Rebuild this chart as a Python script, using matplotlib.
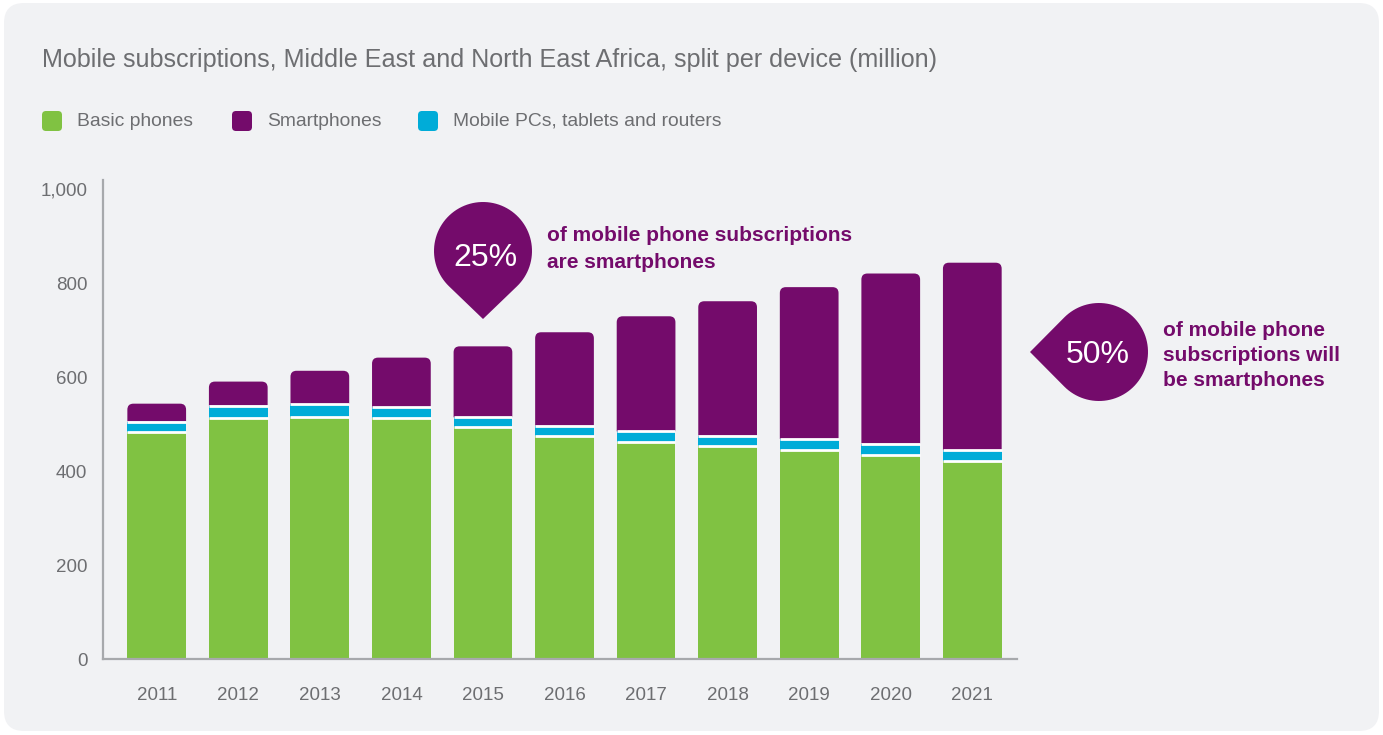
import matplotlib

matplotlib.use("Agg")
import matplotlib.pyplot as plt
import numpy as np
from matplotlib.patches import FancyBboxPatch, PathPatch
from matplotlib.path import Path

plt.rcParams["font.family"] = ["Liberation Sans", "DejaVu Sans"]

years = ["2011", "2012", "2013", "2014", "2015", "2016", "2017", "2018", "2019", "2020", "2021"]
basic_phones = [483, 513, 516, 514, 494, 476, 463, 454, 446, 435, 421]
mobile_pcs = [23, 27, 27, 22, 21, 21, 22, 22, 23, 24, 24]
smartphones = [38, 51, 71, 106, 151, 199, 245, 286, 323, 362, 399]
y_ticks = [0, 200, 400, 600, 800, 1000]
series_labels = ["Basic phones", "Smartphones", "Mobile PCs, tablets and routers"]

GREEN = "#80c242"
PURPLE = "#740b6b"
CYAN = "#00acd8"
GREY_TEXT = "#6d6e71"
AXIS_GREY = "#a7a9ac"
CARD = "#f1f2f4"

W, H = 1383, 735
fig = plt.figure(figsize=(W / 100, H / 100), dpi=100, facecolor="white")

# background / overlay drawn in pixel coordinates
bg = fig.add_axes([0, 0, 1, 1], zorder=0)
bg.set_xlim(0, W)
bg.set_ylim(H, 0)
bg.axis("off")
bg.add_patch(FancyBboxPatch((4, 3), W - 8, H - 7, boxstyle="round,pad=0,rounding_size=20",
                            fc=CARD, ec="none"))

bg.text(42, 60, "Mobile subscriptions, Middle East and North East Africa, split per device (million)",
        fontsize=18.1, color=GREY_TEXT, va="center", ha="left")

legend_x = [42, 232, 418]
legend_cols = [GREEN, PURPLE, CYAN]
for x0, c, lab in zip(legend_x, legend_cols, series_labels):
    bg.add_patch(FancyBboxPatch((x0, 111), 20, 20, boxstyle="round,pad=0,rounding_size=4",
                                fc=c, ec="none"))
    bg.text(x0 + 35, 121, lab, fontsize=13.9, color=GREY_TEXT, va="center", ha="left")


def teardrop(cx, cy, r, tip_angle, tip_dist):
    # circle with a pointed tip in direction tip_angle (radians, screen coords)
    half = np.arccos(r / tip_dist)
    angs = np.linspace(tip_angle + half, tip_angle + 2 * np.pi - half, 80)
    pts = [(cx + r * np.cos(a), cy + r * np.sin(a)) for a in angs]
    pts.append((cx + tip_dist * np.cos(tip_angle), cy + tip_dist * np.sin(tip_angle)))
    pts.append(pts[0])
    codes = [Path.MOVETO] + [Path.LINETO] * (len(pts) - 2) + [Path.CLOSEPOLY]
    return PathPatch(Path(pts, codes), fc=PURPLE, ec="none")


bg.add_patch(teardrop(483, 251, 49, np.pi / 2, 68))
bg.text(485, 258, "25%", fontsize=23, color="white", ha="center", va="center")
bg.text(547, 249, "of mobile phone subscriptions\nare smartphones", fontsize=15,
        fontweight="bold", color=PURPLE, ha="left", va="center", linespacing=1.5)

bg.add_patch(teardrop(1099, 352, 49, np.pi, 69))
bg.text(1098, 355, "50%", fontsize=23, color="white", ha="center", va="center")
bg.text(1163, 355, "of mobile phone\nsubscriptions will\nbe smartphones", fontsize=15,
        fontweight="bold", color=PURPLE, ha="left", va="center", linespacing=1.4)

# main chart
ax = fig.add_axes([103.3 / W, 1 - 659.3 / H, (1017 - 103.3) / W, (659.3 - 180) / H], zorder=1)
ax.set_facecolor("none")
x = np.arange(len(years))
bw = 0.72
basic = np.array(basic_phones)
pcs = np.array(mobile_pcs)
smart = np.array(smartphones)

ax.bar(x, basic, width=bw, color=GREEN, edgecolor="none")
ax.bar(x, pcs, width=bw, bottom=basic, color=CYAN, edgecolor="none")

ax.set_xlim(-0.655, 10.548)
ax.set_ylim(0, 1020)


def rounded_top(x0, y0, w, h, rx, ry):
    # bar outline with the two upper corners rounded (quadratic curves)
    x1, y1 = x0 + w, y0 + h
    verts = [(x0, y0), (x1, y0), (x1, y1 - ry), (x1, y1), (x1 - rx, y1),
             (x0 + rx, y1), (x0, y1), (x0, y1 - ry), (x0, y0)]
    codes = [Path.MOVETO, Path.LINETO, Path.LINETO, Path.CURVE3, Path.CURVE3,
             Path.LINETO, Path.CURVE3, Path.CURVE3, Path.CLOSEPOLY]
    return PathPatch(Path(verts, codes), fc=PURPLE, ec="none")


# smartphone segment with rounded top corners, radius ~6 px
rx = 6 * (10.548 + 0.655) / (1017 - 103.3)
ry = 6 * 1020 / (659.3 - 180)
for xi, b, s in zip(x, basic + pcs, smart):
    ax.add_patch(rounded_top(xi - bw / 2, b, bw, s, rx, ry))

# white separators between segments
for xi, b, p in zip(x, basic, pcs):
    for yb in (b, b + p):
        ax.plot([xi - bw / 2, xi + bw / 2], [yb, yb], color="white", lw=2.0,
                solid_capstyle="butt", zorder=3)

ax.set_xticks(x)
ax.set_xticklabels(years)
ax.set_yticks(y_ticks)
ax.set_yticklabels([f"{v:,}" for v in y_ticks])
ax.tick_params(length=0, labelsize=13.5, colors=GREY_TEXT)
ax.tick_params(axis="y", pad=11.5)
ax.tick_params(axis="x", pad=20)
for side in ["top", "right"]:
    ax.spines[side].set_visible(False)
for side in ["left", "bottom"]:
    ax.spines[side].set_color(AXIS_GREY)
    ax.spines[side].set_linewidth(1.6)
    ax.spines[side].set_zorder(4)

fig.savefig("out.png", dpi=100, facecolor=fig.get_facecolor())
